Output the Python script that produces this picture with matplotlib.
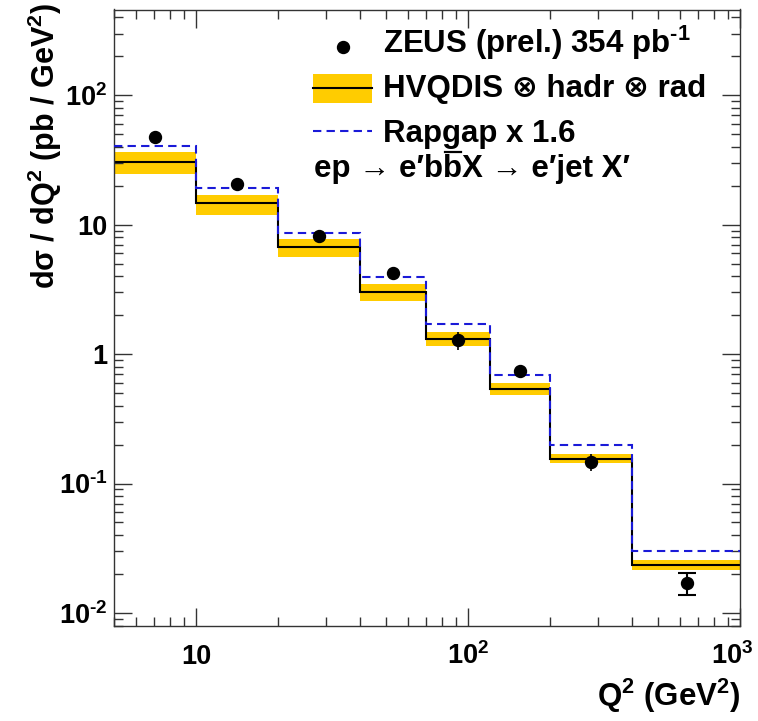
import matplotlib
matplotlib.use('Agg')
import matplotlib.pyplot as plt
import matplotlib.transforms as mtransforms
import numpy as np
from matplotlib.ticker import LogLocator, FixedLocator, FixedFormatter, NullFormatter
from matplotlib.lines import Line2D
from matplotlib.patches import Rectangle

plt.rcParams.update({
    'font.family': ['Liberation Sans', 'DejaVu Sans'],
    'font.weight': 'bold',
    'mathtext.fontset': 'custom',
    'mathtext.rm': 'Liberation Sans:bold',
    'mathtext.bf': 'Liberation Sans:bold',
    'mathtext.it': 'Liberation Sans:bold:italic',
    'mathtext.sf': 'Liberation Sans:bold',
    'mathtext.default': 'bf',
    'mathtext.fallback': 'cm',
})

# ---- data ----
bin_edges = [5, 10, 20, 40, 70, 120, 200, 400, 1000]
hvqdis = [30.4, 14.6, 6.74, 3.03, 1.31, 0.537, 0.156, 0.0233]
hvqdis_up = [36.3, 17.0, 7.73, 3.47, 1.48, 0.597, 0.170, 0.0255]
hvqdis_dn = [24.7, 11.9, 5.61, 2.58, 1.16, 0.479, 0.144, 0.0213]
rapgap = [40.6, 19.3, 8.69, 3.95, 1.71, 0.684, 0.200, 0.0303]
q2_points = [7.06, 14.1, 28.2, 53.0, 91.9, 155.6, 284, 641]
xsec = [47.4, 20.7, 8.24, 4.24, 1.28, 0.734, 0.1466, 0.0171]
xsec_err = [2.5, 1.0, 0.4, 0.25, 0.2, 0.04, 0.022, 0.0033]

x_ticks = [10, 100, 1000]
x_ticklabels = ['10', r'$10^{2}$', r'$10^{3}$']
y_ticks = [0.01, 0.1, 1, 10, 100]
y_ticklabels = [r'$10^{\text{-2}}$', r'$10^{\text{-1}}$', '1', '10', r'$10^{2}$']

W, H = 758, 721
fig = plt.figure(figsize=(W / 100, H / 100), dpi=100)
ax = fig.add_axes([114.4 / W, 1 - 625.5 / H, (740 - 114.4) / W, (625.5 - 9.5) / H])

BAND = '#FFCC00'
BLUE = '#1a1ad8'

ax.stairs(hvqdis_up, bin_edges, baseline=hvqdis_dn, fill=True, color=BAND, lw=0, zorder=1)
ax.stairs(hvqdis, bin_edges, baseline=None, color='black', lw=1.5, zorder=2)
ax.stairs(rapgap, bin_edges, baseline=None, color=BLUE, lw=1.5, linestyle=(0, (4, 2.5)), zorder=3)

ax.errorbar(q2_points[:-1], xsec[:-1], yerr=xsec_err[:-1], fmt='o', color='black',
            ms=8.6, elinewidth=1.2, capsize=0, zorder=5)
ax.errorbar(q2_points[-1:], xsec[-1:], yerr=xsec_err[-1:], fmt='o', color='black',
            ms=8.6, elinewidth=1.5, capsize=6.5, capthick=1.5, zorder=5)

ax.set_xscale('log')
ax.set_yscale('log')
ax.set_xlim(5, 1000)
ax.set_ylim(0.008, 460)

ax.xaxis.set_major_locator(FixedLocator(x_ticks))
ax.xaxis.set_major_formatter(FixedFormatter(x_ticklabels))
ax.xaxis.set_minor_locator(LogLocator(base=10, subs=np.arange(2, 10), numticks=30))
ax.xaxis.set_minor_formatter(NullFormatter())
ax.yaxis.set_major_locator(FixedLocator(y_ticks))
ax.yaxis.set_major_formatter(FixedFormatter(y_ticklabels))
ax.yaxis.set_minor_locator(LogLocator(base=10, subs=np.arange(2, 10), numticks=30))
ax.yaxis.set_minor_formatter(NullFormatter())

ax.tick_params(which='both', direction='in', top=True, right=True, width=1.0, color='#333333')
ax.tick_params(which='major', length=13, labelsize=19.5)
ax.tick_params(which='minor', length=6.5)
ax.tick_params(axis='x', which='major', pad=27.7)
ax.tick_params(axis='y', which='major', pad=5)
for s in ax.spines.values():
    s.set_linewidth(1.0)
    s.set_color('#333333')

xlabs = ax.get_xticklabels()
for lab in xlabs:
    lab.set_verticalalignment('baseline')
shift = mtransforms.ScaledTranslation(-8 / 100, 0, fig.dpi_scale_trans)
xlabs[-1].set_transform(xlabs[-1].get_transform() + shift)

def fx(x):
    return x / W

def fy(y):
    return 1 - y / H

T = fig.transFigure
FS = 22.5
# legend
fig.add_artist(Line2D([fx(343)], [fy(47)], marker='o', ms=8.6, color='black', transform=T))
fig.text(fx(383), fy(53.5), r'ZEUS (prel.) 354 pb$^{\text{-1}}$', fontsize=FS, va='baseline')
fig.add_artist(Rectangle((fx(313), fy(103)), 59 / W, 29 / H, transform=T, color=BAND, lw=0))
fig.add_artist(Line2D([fx(313), fx(372)], [fy(88), fy(88)], color='black', lw=1.5, transform=T))
fig.text(fx(383), fy(97), 'HVQDIS \u2297 hadr \u2297 rad', fontsize=FS, va='baseline')
fig.add_artist(Line2D([fx(313), fx(372)], [fy(131), fy(131)], color=BLUE, lw=1.5,
                      linestyle=(0, (4, 2.5)), transform=T))
fig.text(fx(383), fy(142), 'Rapgap x 1.6', fontsize=FS, va='baseline')

# process line, with an overlined b drawn piecewise
renderer = fig.canvas.get_renderer()
parts = ['ep \u2192 e\u2032b', 'b', 'X \u2192 e\u2032jet X\u2032']
xcur = 314
base_y = 177
for i, p in enumerate(parts):
    t = fig.text(fx(xcur), fy(base_y), p, fontsize=FS, va='baseline', ha='left')
    bb = t.get_window_extent(renderer=renderer)
    if i == 1:
        fig.add_artist(Line2D([fx(bb.x0 + 1.5), fx(bb.x0 + bb.width - 1.5)],
                              [fy(base_y - 25), fy(base_y - 25)],
                              color='black', lw=1.6, transform=T))
    xcur = bb.x0 + bb.width

# axis titles
fig.text(fx(45), fy(3), r'd$\sigma$ / dQ$^{2}$ (pb / GeV$^{2}$)', rotation=90,
         ha='center', va='top', fontsize=22)
fig.text(fx(740), fy(706), r'Q$^{2}$ (GeV$^{2}$)', ha='right', va='baseline', fontsize=22.5)

fig.savefig('out.png', dpi=100)
